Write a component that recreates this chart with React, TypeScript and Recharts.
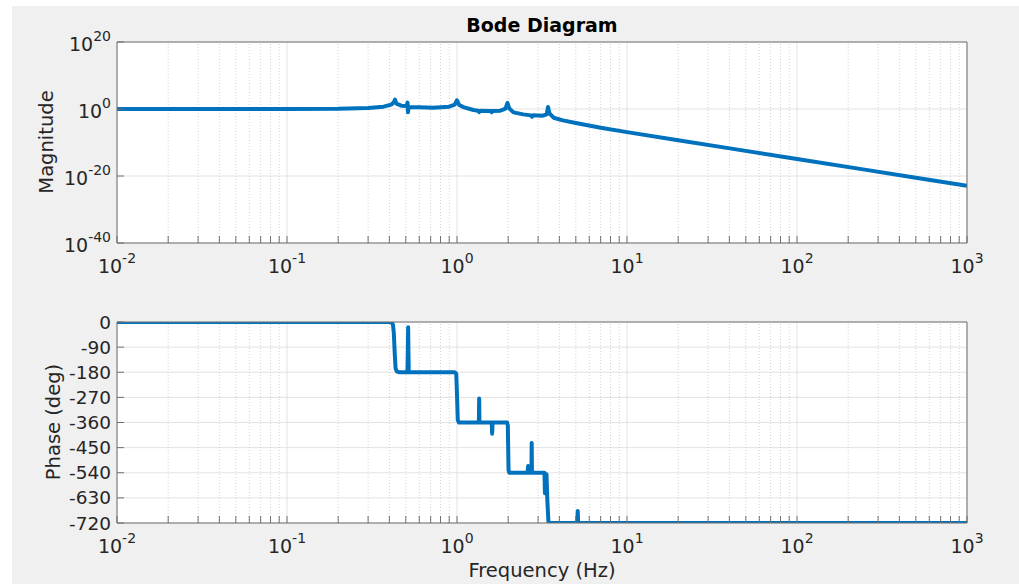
import React from 'react';
import { LineChart, Line, XAxis, YAxis, CartesianGrid, ReferenceLine } from 'recharts';

// frequency axis (log10 of Hz)
const decadeExps = [-2, -1, 0, 1, 2, 3];
const minorMult = [2, 3, 4, 5, 6, 7, 8, 9];

// magnitude: frequency (Hz) and log10 |H|
const magFreq = [
  0.01, 0.1, 0.2, 0.3, 0.37, 0.41, 0.425, 0.432, 0.44, 0.47, 0.505, 0.512, 0.515, 0.52,
  0.6, 0.72, 0.9, 0.97, 1.0, 1.03, 1.1, 1.25, 1.33, 1.35, 1.37, 1.58, 1.6, 1.62, 1.8,
  1.93, 1.98, 2.03, 2.15, 2.45, 2.72, 2.76, 2.8, 3.2, 3.37, 3.43, 3.5, 3.7, 4.2, 5, 7,
  10, 20, 42, 100, 250, 500, 1000,
];
const magExp = [
  0, 0, 0.05, 0.3, 0.7, 1.3, 2.0, 2.8, 1.6, 1.0, 0.9, 1.9, -1.0, 0.6,
  0.5, 0.4, 0.7, 1.3, 2.6, 1.2, 0.5, -0.3, -0.5, -0.9, -0.5, -0.6, -0.95, -0.6, -0.5,
  0.1, 1.8, 0.2, -1.0, -1.6, -1.9, -2.3, -1.9, -2.0, -1.6, 0.6, -1.3, -2.6, -3.4, -4.2, -5.6,
  -6.9, -9.3, -11.9, -14.9, -18.1, -20.5, -22.9,
];
const magTicks = [-40, -20, 0, 20];

// phase: frequency (Hz) and degrees
const phaseFreq = [
  0.01, 0.1, 0.4, 0.414, 0.42, 0.425, 0.43, 0.435, 0.442, 0.455, 0.511, 0.514, 0.516, 0.518,
  0.52, 0.97, 0.99, 1.0, 1.01, 1.025, 1.345, 1.35, 1.355, 1.6, 1.61, 1.62, 1.97, 1.99, 2.0,
  2.01, 2.03, 2.6, 2.62, 2.64, 2.74, 2.75, 2.76, 3.27, 3.29, 3.31, 3.36, 3.4, 3.45, 3.5,
  5.1, 5.13, 5.16, 1000,
];
const phaseDeg = [
  0, 0, 0, -2, -10, -40, -110, -165, -177, -180, -180, -100, -19, -100,
  -180, -180, -185, -260, -350, -360, -360, -274, -360, -360, -400, -360, -360, -370, -450,
  -530, -540, -540, -516, -540, -540, -433, -540, -540, -613, -545, -545, -640, -715, -720,
  -720, -677, -720, -720,
];
const phaseTicks = [0, -90, -180, -270, -360, -450, -540, -630, -720];

const magData = magFreq.map((f, i) => ({ x: Math.log10(f), y: magExp[i] }));
const phaseData = phaseFreq.map((f, i) => ({ x: Math.log10(f), y: phaseDeg[i] }));
const minorTicks = decadeExps.slice(0, -1).flatMap((d) => minorMult.map((m) => d + Math.log10(m)));
const xTicks = [...decadeExps, ...minorTicks].sort((a, b) => a - b);

const FONT = '"DejaVu Sans", sans-serif';
const TXT = '#262626';
const AX = '#6e6e6e';
const BLUE = '#0072BD';

function FreqTick(props: any) {
  const { x, y, payload } = props;
  if (!decadeExps.includes(payload.value)) return null;
  return (
    <text x={x} y={y} textAnchor="middle" fill={TXT} fontSize={19} fontFamily={FONT}>
      <tspan>10</tspan>
      <tspan dy={-10} fontSize={14}>{String(payload.value)}</tspan>
    </text>
  );
}

function MagTick(props: any) {
  const { x, y, payload } = props;
  return (
    <text x={x} y={y + 9} textAnchor="end" fill={TXT} fontSize={19} fontFamily={FONT}>
      <tspan>10</tspan>
      <tspan dy={-10} fontSize={14}>{String(payload.value)}</tspan>
    </text>
  );
}

function PhaseTick(props: any) {
  const { x, y, payload } = props;
  return (
    <text x={x} y={y + 6.5} textAnchor="end" fill={TXT} fontSize={18.5} fontFamily={FONT}>
      {String(payload.value)}
    </text>
  );
}

function Panel({ data, domain, yTicks, yTick, top, height, margin }: any) {
  return (
    <div style={{ position: 'absolute', left: 0, top }}>
      <LineChart width={1019} height={height} data={data} margin={margin}>
        <CartesianGrid fill="#ffffff" stroke="#e3e3e3" vertical={false} />
        {minorTicks.map((v) => (
          <ReferenceLine key={'m' + v} x={v} stroke="#d2d2d2" strokeDasharray="1 2" />
        ))}
        {decadeExps.map((v) => (
          <ReferenceLine key={'d' + v} x={v} stroke="#e3e3e3" />
        ))}
        <XAxis
          type="number"
          dataKey="x"
          domain={[-2, 3]}
          ticks={xTicks}
          interval={0}
          allowDataOverflow
          height={40}
          tickSize={-7}
          tickMargin={37}
          tick={<FreqTick />}
          axisLine={{ stroke: AX }}
          tickLine={{ stroke: AX }}
        />
        <XAxis
          xAxisId="top"
          orientation="top"
          type="number"
          dataKey="x"
          domain={[-2, 3]}
          ticks={xTicks}
          interval={0}
          allowDataOverflow
          height={1}
          tickSize={-7}
          tick={false}
          axisLine={{ stroke: AX }}
          tickLine={{ stroke: AX }}
        />
        <YAxis
          type="number"
          domain={domain}
          ticks={yTicks}
          interval={0}
          allowDataOverflow
          width={117}
          tickSize={-7}
          tickMargin={13}
          tick={yTick}
          axisLine={{ stroke: AX }}
          tickLine={{ stroke: AX }}
        />
        <YAxis
          yAxisId="right"
          orientation="right"
          type="number"
          domain={domain}
          ticks={yTicks}
          interval={0}
          allowDataOverflow
          width={1}
          tickSize={-7}
          tick={false}
          axisLine={{ stroke: AX }}
          tickLine={{ stroke: AX }}
        />
        <Line
          type="linear"
          dataKey="y"
          stroke={BLUE}
          strokeWidth={4}
          strokeLinejoin="round"
          dot={false}
          isAnimationActive={false}
        />
      </LineChart>
    </div>
  );
}

export default function App() {
  return (
    <div style={{ position: 'absolute', left: 0, top: 0, width: 1019, height: 584, background: '#ffffff', overflow: 'hidden' }}>
      <div style={{ position: 'absolute', left: 12, top: 6, width: 1007, height: 578, background: '#f0f0f0' }} />
      <Panel
        data={magData}
        domain={[-40, 20]}
        yTicks={magTicks}
        yTick={<MagTick />}
        top={0}
        height={290}
        margin={{ top: 41, right: 51, bottom: 7, left: 0 }}
      />
      <Panel
        data={phaseData}
        domain={[-720, 0]}
        yTicks={phaseTicks}
        yTick={<PhaseTick />}
        top={290}
        height={294}
        margin={{ top: 31, right: 51, bottom: 21, left: 0 }}
      />
      <svg width={1019} height={584} style={{ position: 'absolute', left: 0, top: 0, pointerEvents: 'none' }}>
        <text x={542} y={32} textAnchor="middle" fontWeight="bold" fontSize={19} fill="#000" fontFamily={FONT}>
          Bode Diagram
        </text>
        <text transform="translate(53,142) rotate(-90)" textAnchor="middle" fontSize={19.5} fill={TXT} fontFamily={FONT}>
          Magnitude
        </text>
        <text transform="translate(60,422) rotate(-90)" textAnchor="middle" fontSize={19.5} fill={TXT} fontFamily={FONT}>
          Phase (deg)
        </text>
        <text x={542} y={577} textAnchor="middle" fontSize={19.5} fill={TXT} fontFamily={FONT}>
          Frequency (Hz)
        </text>
      </svg>
    </div>
  );
}
